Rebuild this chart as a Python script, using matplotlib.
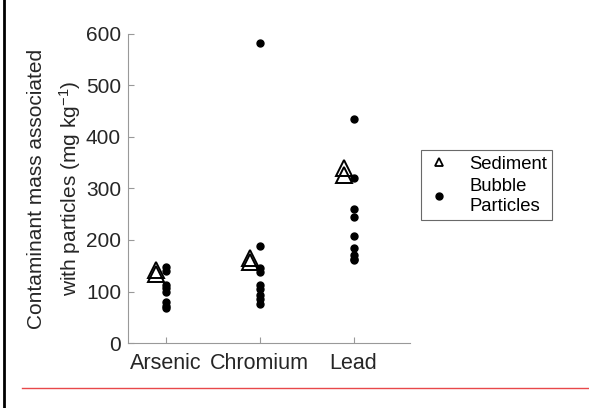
import matplotlib.pyplot as plt
from matplotlib.lines import Line2D

plt.rcParams['font.family'] = ['Liberation Sans', 'DejaVu Sans']
plt.rcParams['mathtext.default'] = 'regular'

# categories and values
metals = ["Arsenic", "Chromium", "Lead"]
sediment = [[142, 134], [166, 158], [340, 326]]
bubble = [
    [148, 140, 112, 106, 100, 80, 72, 68],
    [583, 189, 146, 138, 112, 104, 94, 86, 75],
    [434, 321, 261, 245, 208, 185, 170, 164, 161],
]

fig = plt.figure(figsize=(5.89, 4.08), dpi=100)
ax = fig.add_axes([0.2173, 0.1593, 0.4787, 0.7574])

for i, name in enumerate(metals):
    x = i + 1
    ax.plot([x - 0.1] * len(sediment[i]), sediment[i], linestyle='none', marker='^',
            markersize=11, markerfacecolor='none', markeredgecolor='black', markeredgewidth=1.4)
    ax.plot([x] * len(bubble[i]), bubble[i], linestyle='none', marker='o',
            markersize=5, color='black')

ax.set_xlim(0.6, 3.6)
ax.set_ylim(0, 600)
ax.set_xticks([1, 2, 3])
ax.set_xticklabels(metals, fontsize=15.5)
ax.set_yticks(range(0, 601, 100))
for lab in ax.get_yticklabels():
    lab.set_family(['Liberation Sans Narrow', 'Liberation Sans'])
    lab.set_fontsize(15)
for side in ['top', 'right']:
    ax.spines[side].set_visible(False)
for side in ['left', 'bottom']:
    ax.spines[side].set_color('#999999')
    ax.spines[side].set_linewidth(0.8)
ax.tick_params(direction='in', length=4, color='#999999', labelcolor='#262626')
ax.tick_params(axis='x', pad=7)
ax.tick_params(axis='y', pad=5)
ax.set_ylabel("Contaminant mass associated\nwith particles (mg kg$^{-1}$)",
              fontsize=15, color='#262626', labelpad=2, linespacing=1.55)

handles = [
    Line2D([], [], linestyle='none', marker='^', markersize=6, markerfacecolor='none',
           markeredgecolor='black', markeredgewidth=1.3),
    Line2D([], [], linestyle='none', marker='o', markersize=5, color='black'),
]
leg = fig.legend(handles, ["Sediment", "Bubble\nParticles"], loc='upper left',
                 bbox_to_anchor=(421 / 589, 1 - 150 / 408), fontsize=13.3,
                 frameon=True, fancybox=False, edgecolor='#444444',
                 handlelength=1.4, handletextpad=0.9, borderpad=0.3, labelspacing=0.3,
                 borderaxespad=0)
leg.get_frame().set_linewidth(0.8)
for t in leg.get_texts():
    t.set_linespacing(1.2)

# page decorations visible in the reference
fig.add_artist(Line2D([4 / 589, 4 / 589], [0, 1], color='black', linewidth=2))
fig.add_artist(Line2D([22 / 589, 1], [1 - 388 / 408, 1 - 388 / 408], color='#e8484a', linewidth=1))

fig.savefig("out.png", dpi=100)
